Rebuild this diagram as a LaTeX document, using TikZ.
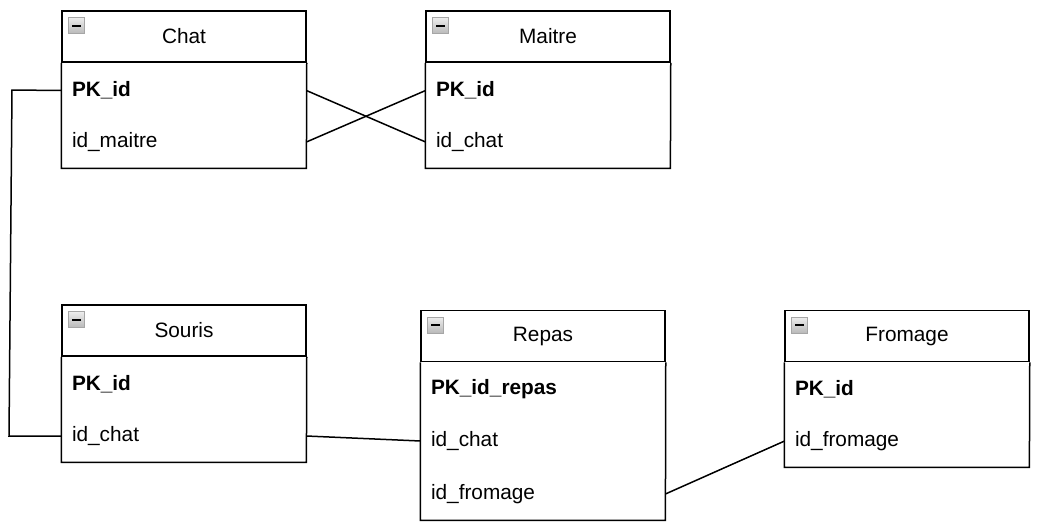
\documentclass[tikz,border=0pt]{standalone}
\usepackage{fontspec}
\setmainfont{Liberation Sans}
\usetikzlibrary{positioning}

\tikzset{
  tbl/.style={draw, line width=0.75pt},
  head/.style={tbl, minimum width=122pt, minimum height=25.5pt, inner sep=0pt},
  field/.style={minimum width=122pt, minimum height=26pt, text width=112pt, align=left, inner sep=0pt},
  key/.style={field, font=\fontsize{10.4}{12}\selectfont\bfseries},
  minusbox/.style={draw=gray!70, line width=0.5pt, top color=gray!15, bottom color=gray!55,
    minimum size=7.8pt, inner sep=0pt,
    path picture={\draw[line width=1pt, black] ([xshift=1.6pt]path picture bounding box.west) -- ([xshift=-1.6pt]path picture bounding box.east);}},
  link/.style={line width=0.75pt}
}

\begin{document}
\begin{tikzpicture}[x=0.5pt, y=-0.5pt, font=\fontsize{10.4}{12}\selectfont]
\useasboundingbox (0,0) rectangle (1044,525);

% Chat
\node[head] (chat) at (184,36.5) {Chat};
\node[key] (chatpk) at (184,90.5) {PK\_id};
\node[field] (chatmaitre) at (184,142) {id\_maitre};
\draw[tbl] (chat.south west) |- (chatmaitre.south east) -- (chat.south east);

% Maitre
\node[head] (maitre) at (548,36.5) {Maitre};
\node[key] (maitrepk) at (548,90.5) {PK\_id};
\node[field] (maitrechat) at (548,142) {id\_chat};
\draw[tbl] (maitre.south west) |- (maitrechat.south east) -- (maitre.south east);

% Souris
\node[head] (souris) at (184,330.5) {Souris};
\node[key] (sourispk) at (184,384.5) {PK\_id};
\node[field] (sourischat) at (184,436) {id\_chat};
\draw[tbl] (souris.south west) |- (sourischat.south east) -- (souris.south east);

% Repas
\node[head] (repas) at (543,336) {Repas};
\node[key] (repaspk) at (543,389.5) {PK\_id\_repas};
\node[field] (repaschat) at (543,441) {id\_chat};
\node[field] (repasfromage) at (543,494) {id\_fromage};
\draw[tbl] (repas.south west) |- (repasfromage.south east) -- (repas.south east);

% Fromage
\node[head] (fromage) at (907,336) {Fromage};
\node[key] (fromagepk) at (907,389.5) {PK\_id};
\node[field] (fromageid) at (907,441) {id\_fromage};
\draw[tbl] (fromage.south west) |- (fromageid.south east) -- (fromage.south east);

% collapse icons
\foreach \t in {chat,maitre,souris,repas,fromage}
  \node[minusbox] at ([xshift=7.75pt,yshift=-7.75pt]\t.north west) {};

% links
\coordinate (bendtop) at (12,90);
\coordinate (bendbot) at (9,436);
\draw[link] (chatpk.west) -- (bendtop) -- (bendbot) -- (sourischat.west);
\draw[link] (chatpk.east) -- (maitrechat.west);
\draw[link] (chatmaitre.east) -- (maitrepk.west);
\draw[link] (sourischat.east) -- (repaschat.west);
\draw[link] (repasfromage.east) -- (fromageid.west);
\end{tikzpicture}
\end{document}
